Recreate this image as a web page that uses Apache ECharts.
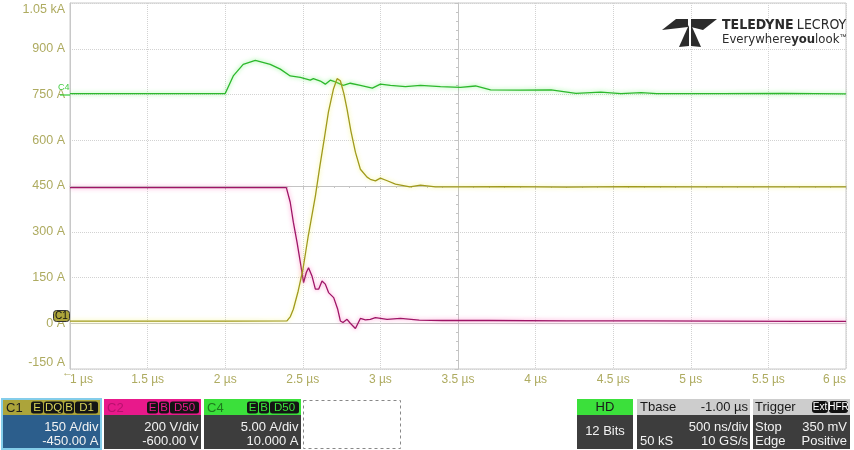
<!DOCTYPE html>
<html><head><meta charset="utf-8">
<script src="https://cdn.jsdelivr.net/npm/echarts@6/dist/echarts.min.js"></script>
<style>html,body{margin:0;padding:0;background:#fff}#c{width:854px;height:450px}</style>
</head><body><div id="c"></div>
<script>
const c1Time = [1.0, 2.0, 2.398, 2.42, 2.439, 2.47, 2.501, 2.535, 2.581, 2.61, 2.64, 2.665, 2.697, 2.721, 2.742, 2.765, 2.785, 2.81, 2.839, 2.871, 2.914, 2.935, 2.968, 3.0, 3.04, 3.097, 3.19, 3.258, 3.355, 3.5, 3.8, 4.2, 4.6, 5.0, 5.4, 5.8, 6.0];
const c1Amps = [7, 7, 8, 22, 46, 105, 177, 286, 417, 515, 610, 692, 767, 802, 795, 752, 702, 630, 561, 505, 479, 472, 467, 476, 468, 456, 447, 453, 447, 447, 448, 446, 448, 447, 447, 447, 447];

const c2Time = [1.0, 2.0, 2.394, 2.419, 2.439, 2.463, 2.484, 2.505, 2.523, 2.537, 2.559, 2.581, 2.602, 2.624, 2.645, 2.666, 2.699, 2.725, 2.742, 2.759, 2.785, 2.806, 2.839, 2.871, 2.903, 2.935, 2.968, 3.043, 3.129, 3.25, 3.4, 3.7, 4.2, 4.7, 5.2, 5.7, 6.0];
const c2Volts = [593, 593, 593, 529, 442, 354, 267, 178, 223, 243, 207, 149, 149, 185, 171, 134, 112, 61, 10, 3, 17, 0, -23, 21, 15, 17, 25, 17, 21, 14, 12, 12, 10, 10, 9, 8, 8];

const c4Time = [1.0, 2.0, 2.006, 2.052, 2.116, 2.194, 2.29, 2.355, 2.419, 2.484, 2.548, 2.568, 2.613, 2.645, 2.677, 2.71, 2.761, 2.806, 2.871, 2.948, 3.0, 3.065, 3.161, 3.258, 3.387, 3.516, 3.613, 3.71, 3.9, 4.1, 4.26, 4.42, 4.55, 4.68, 4.78, 5.2, 5.6, 6.0];
const c4Amps = [0.1, 0.1, 0.1, 2.03, 3.3, 3.73, 3.3, 2.77, 2.03, 1.87, 1.57, 1.73, 1.47, 1.13, 1.57, 1.37, 1.0, 1.23, 1.0, 0.7, 1.13, 1.0, 0.87, 1.0, 0.87, 0.77, 0.93, 0.5, 0.47, 0.5, 0.13, 0.27, 0.1, 0.2, 0.1, 0.1, 0.12, 0.07];

// channel vertical settings (per division) and offsets, as shown in the footer
const channelScale = [150, 200, 5];     // C1 A/div, C2 V/div, C4 A/div
const channelOffset = [-450, -600, 10]; // C1, C2, C4 offsets
const displayPerDiv = 150;              // the grid is labelled in C1 amps
const displayCenter = 450;

// axis ranges / ticks
const timeMin = 1, timeMax = 6, timeStep = 0.5;
const ampMin = -150, ampMax = 1050, ampStep = 150;

function toDisplay(v, ch) {
  return displayCenter + (v + channelOffset[ch]) / channelScale[ch] * displayPerDiv;
}
function pairs(ts, vs, ch) { return ts.map((t, i) => [t, toDisplay(vs[i], ch)]); }

const FONT = '"Liberation Sans", Arial, sans-serif';
const LBL = '#aeab60';
const GRIDC = '#d2d2d2';

// ---- graphic helpers (footer / logo decoration) ----
const G = [];
function rect(x, y, w, h, fill, extra) {
  const e = { type: 'rect', shape: { x, y, width: w, height: h, r: (extra && extra.r) || 0 }, style: { fill }, z: 100 };
  if (extra) { if (extra.stroke) { e.style.stroke = extra.stroke; e.style.lineWidth = extra.lineWidth || 1; } if (extra.lineDash) e.style.lineDash = extra.lineDash; }
  return e;
}
function txt(x, y, text, o) {
  o = o || {};
  return { type: 'text', x, y, z: 110, style: { text, fill: o.fill || '#f2f2f2', font: (o.weight || 'normal') + ' ' + (o.size || 13) + 'px ' + (o.family || FONT), align: o.align || 'left', verticalAlign: o.va || 'middle' } };
}
function badge(x, w, label, color) {
  G.push(rect(x, 401.5, w, 12, '#141414', { r: 2.5 }));
  G.push(txt(x + w / 2, 408, label, { fill: color, size: 11.5, align: 'center' }));
}

// C1 box
G.push(rect(2, 399, 99, 50, '#2c5e8c', { stroke: '#84cdea', lineWidth: 2 }));
G.push(rect(3, 400, 97, 15, '#aca43a'));
G.push(txt(6, 408, 'C1', { fill: '#1c1c1c', size: 13 }));
badge(31, 12, 'E', '#d8d25a'); badge(44, 19, 'DQ', '#d8d25a'); badge(64, 10, 'B', '#d8d25a'); badge(75, 23, 'D1', '#d8d25a');
G.push(txt(98.5, 427, '150 A/div', { align: 'right' }));
G.push(txt(98.5, 441, '-450.00 A', { align: 'right' }));
// C2 box
G.push(rect(104, 399, 97, 50, '#3d3d3d'));
G.push(rect(104, 399, 97, 16, '#e8198b'));
G.push(txt(107, 408, 'C2', { fill: '#b8106e', size: 13 }));
badge(147, 11, 'E', '#e8198b'); badge(159, 10, 'B', '#e8198b'); badge(170, 29, 'D50', '#e8198b');
G.push(txt(198.5, 427, '200 V/div', { align: 'right' }));
G.push(txt(198.5, 441, '-600.00 V', { align: 'right' }));
// C4 box
G.push(rect(204, 399, 97, 50, '#3d3d3d'));
G.push(rect(204, 399, 97, 16, '#3be03b'));
G.push(txt(207, 408, 'C4', { fill: '#1d7a1d', size: 13 }));
badge(247, 11, 'E', '#3be03b'); badge(259, 10, 'B', '#3be03b'); badge(270, 29, 'D50', '#3be03b');
G.push(txt(298.5, 427, '5.00 A/div', { align: 'right' }));
G.push(txt(298.5, 441, '10.000 A', { align: 'right' }));
// empty dashed slot
G.push(rect(303.5, 400.5, 97, 48, 'none', { stroke: '#888', lineDash: [3, 3] }));
// HD box
G.push(rect(577, 399, 56, 50, '#3d3d3d'));
G.push(rect(577, 399, 56, 16, '#3be03b'));
G.push(txt(605, 407.5, 'HD', { fill: '#1a1a1a', align: 'center' }));
G.push(txt(605, 431, '12 Bits', { align: 'center' }));
// Tbase box
G.push(rect(637, 399, 113, 50, '#3d3d3d'));
G.push(rect(637, 399, 113, 16, '#cdcdcd'));
G.push(txt(640, 407.5, 'Tbase', { fill: '#1a1a1a' }));
G.push(txt(748, 407.5, '-1.00 µs', { fill: '#1a1a1a', align: 'right' }));
G.push(txt(748, 427, '500 ns/div', { align: 'right' }));
G.push(txt(640, 441, '50 kS'));
G.push(txt(748, 441, '10 GS/s', { align: 'right' }));
// Trigger box
G.push(rect(753, 399, 97, 50, '#3d3d3d'));
G.push(rect(753, 399, 97, 16, '#cdcdcd'));
G.push(txt(755, 407.5, 'Trigger', { fill: '#1a1a1a' }));
G.push(rect(812, 401, 16, 12, '#111', { r: 3 }));
G.push(txt(820, 407.5, 'Ext', { fill: '#fff', size: 10, align: 'center' }));
G.push(rect(829, 401, 19, 12, '#111', { r: 3 }));
G.push(txt(838.5, 407.5, 'HFR', { fill: '#fff', size: 10, align: 'center' }));
G.push(txt(755, 427, 'Stop'));
G.push(txt(847, 427, '350 mV', { align: 'right' }));
G.push(txt(755, 441, 'Edge'));
G.push(txt(847, 441, 'Positive', { align: 'right' }));

// channel markers on the left edge
G.push({ type: 'line', z: 105, shape: { x1: 60, y1: 95, x2: 70, y2: 95 }, style: { stroke: '#33cc33', lineWidth: 1.2 } });
G.push(txt(58, 88, 'C4', { fill: '#44cc44', size: 9 }));
G.push(rect(53.5, 310.5, 16, 11, '#aca43a', { r: 3, stroke: '#333' }));
G.push(txt(61.5, 316.5, 'C1', { fill: '#111', size: 10, align: 'center' }));
// trigger-position arrow before the first time label
G.push(txt(62, 373, '←', { fill: LBL, size: 11 }));

// logo
const LOGO = '#2b2b2b';
G.push({ type: 'polygon', z: 100, shape: { points: [[662, 30], [676, 19], [688, 19], [688, 27]] }, style: { fill: LOGO } });
G.push({ type: 'polygon', z: 100, shape: { points: [[691, 19], [717, 19], [703, 30], [691, 27]] }, style: { fill: LOGO } });
G.push({ type: 'polygon', z: 100, shape: { points: [[687, 29], [689, 25], [689, 46], [679, 47]] }, style: { fill: LOGO } });
G.push({ type: 'polygon', z: 100, shape: { points: [[691, 25], [693, 29], [701, 47], [691, 46]] }, style: { fill: LOGO } });
G.push({ type: 'text', x: 722, y: 25, z: 110, style: { text: '{b|TELEDYNE} {r|LECROY}', verticalAlign: 'middle', rich: {
  b: { font: 'bold 14px "Liberation Sans Narrow", "DejaVu Sans Condensed", sans-serif', fill: LOGO },
  r: { font: '14px "Liberation Sans Narrow", "DejaVu Sans Condensed", sans-serif', fill: LOGO } } } });
G.push({ type: 'text', x: 722, y: 40, z: 110, style: { text: '{r|Everywhere}{b|you}{r|look}{t|™}', verticalAlign: 'middle', rich: {
  b: { font: 'bold 13px "Liberation Sans Narrow", "DejaVu Sans Condensed", sans-serif', fill: LOGO },
  r: { font: '13px "Liberation Sans Narrow", "DejaVu Sans Condensed", sans-serif', fill: LOGO },
  t: { font: '7px "Liberation Sans", sans-serif', fill: LOGO, verticalAlign: 'top' } } } });

const chart = echarts.init(document.getElementById('c'), null, { renderer: 'canvas' });
const traceBase = { type: 'line', showSymbol: false, symbol: 'none', animation: false, xAxisIndex: 0, yAxisIndex: 0, z: 3 };
chart.setOption({
  animation: false,
  backgroundColor: '#ffffff',
  grid: { left: 70, right: 8, top: 3, bottom: 81, show: true, borderColor: '#c8c8c8', borderWidth: 1 },
  xAxis: [
    { type: 'value', min: timeMin, max: timeMax, interval: timeStep,
      axisLine: { show: true, lineStyle: { color: '#c8c8c8' } }, axisTick: { show: false },
      axisLabel: { color: LBL, fontSize: 12, fontFamily: FONT, margin: 5, formatter: v => v + ' µs', alignMinLabel: 'left', alignMaxLabel: 'right' },
      splitLine: { show: true, lineStyle: { type: 'dotted', color: GRIDC } } },
    { type: 'value', min: timeMin, max: timeMax, interval: timeStep, position: 'bottom', offset: -183,
      axisLine: { show: true, lineStyle: { color: '#c4c4c4' } }, axisTick: { show: true, length: 3, lineStyle: { color: '#c4c4c4' } },
      minorTick: { show: true, splitNumber: 5, length: 2, lineStyle: { color: '#c4c4c4' } },
      axisLabel: { show: false }, splitLine: { show: false } }
  ],
  yAxis: [
    { type: 'value', min: ampMin, max: ampMax, interval: ampStep,
      axisLine: { show: true, lineStyle: { color: '#c8c8c8' } }, axisTick: { show: false },
      axisLabel: { color: LBL, fontSize: 12.5, fontFamily: FONT, margin: 5, formatter: v => v === 1050 ? '1.05 kA' : v + ' A', verticalAlignMaxLabel: 'top', verticalAlignMinLabel: 'bottom' },
      splitLine: { show: true, lineStyle: { type: 'dotted', color: GRIDC } } },
    { type: 'value', min: ampMin, max: ampMax, interval: ampStep, position: 'left', offset: -388,
      axisLine: { show: true, lineStyle: { color: '#c4c4c4' } }, axisTick: { show: true, length: 3, lineStyle: { color: '#c4c4c4' } },
      minorTick: { show: true, splitNumber: 5, length: 2, lineStyle: { color: '#c4c4c4' } },
      axisLabel: { show: false }, splitLine: { show: false } }
  ],
  series: [
    Object.assign({}, traceBase, { name: 'C4', data: pairs(c4Time, c4Amps, 2),
      lineStyle: { color: '#2cb82c', width: 1.3, shadowColor: 'rgba(90,240,90,0.8)', shadowBlur: 4 } }),
    Object.assign({}, traceBase, { name: 'C2', data: pairs(c2Time, c2Volts, 1),
      lineStyle: { color: '#9e1566', width: 1.3, shadowColor: 'rgba(255,90,180,0.8)', shadowBlur: 4 } }),
    Object.assign({}, traceBase, { name: 'C1', data: pairs(c1Time, c1Amps, 0),
      lineStyle: { color: '#a09a1c', width: 1.3, shadowColor: 'rgba(240,240,90,0.8)', shadowBlur: 4 } })
  ],
  graphic: { elements: G }
});
</script>
</body></html>
